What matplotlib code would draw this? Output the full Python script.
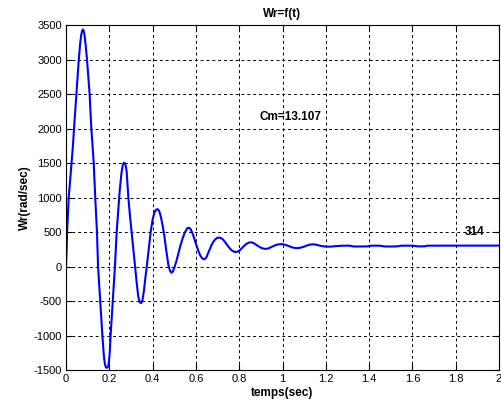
import matplotlib
matplotlib.use("Agg")
import matplotlib.pyplot as plt

plt.rcParams["font.family"] = ["Liberation Sans", "DejaVu Sans"]
plt.rcParams["axes.unicode_minus"] = False

# speed response (time in s, speed in rad/s)
t = [0.000, 0.003, 0.005, 0.009, 0.0125, 0.019, 0.026, 0.032, 0.037, 0.048,
     0.059, 0.065, 0.070, 0.074, 0.078, 0.082, 0.086, 0.091, 0.097, 0.103,
     0.109, 0.117, 0.128, 0.135, 0.143, 0.148, 0.158, 0.168, 0.175, 0.180,
     0.185, 0.192, 0.197, 0.202, 0.206, 0.216, 0.226, 0.234, 0.241, 0.248,
     0.256, 0.262, 0.268, 0.274, 0.280, 0.288, 0.295, 0.303, 0.311, 0.319,
     0.327, 0.334, 0.341, 0.347, 0.353, 0.360, 0.366, 0.373, 0.382, 0.391,
     0.400, 0.408, 0.416, 0.424, 0.431, 0.438, 0.446, 0.454, 0.463, 0.473,
     0.480, 0.487, 0.493, 0.500, 0.510, 0.520, 0.530, 0.540, 0.550, 0.560,
     0.568, 0.576, 0.588, 0.600, 0.611, 0.620, 0.630, 0.639, 0.648, 0.660,
     0.672, 0.685, 0.698, 0.711, 0.724, 0.738, 0.752, 0.765, 0.778, 0.790,
     0.803, 0.818, 0.833, 0.846, 0.858, 0.872, 0.888, 0.903, 0.919, 0.935,
     0.950, 0.966, 0.982, 0.997, 1.013, 1.030, 1.047, 1.063, 1.080, 1.097,
     1.113, 1.128, 1.142, 1.158, 1.175, 1.195, 1.220, 1.250, 1.280, 1.310,
     1.330, 1.360, 1.390, 1.410, 1.450, 1.470, 1.500, 1.530, 1.550, 1.600,
     1.625, 1.655, 1.670, 1.750, 1.850, 2.000]
wr = [0, 250, 500, 750, 1000, 1250, 1500, 1750, 2000, 2500,
      3000, 3220, 3350, 3415, 3435, 3415, 3340, 3200, 3000, 2750,
      2500, 2000, 1500, 1000, 500, 0, -500, -1000, -1300, -1420,
      -1465, -1465, -1420, -1250, -1000, -500, 0, 500, 800, 1100,
      1350, 1470, 1505, 1490, 1380, 1000, 750, 500, 250, 0,
      -250, -440, -520, -530, -490, -350, -180, 0, 250, 500,
      680, 780, 825, 830, 800, 720, 600, 450, 230, 20,
      -60, -90, -75, -20, 80, 200, 320, 420, 500, 555,
      562, 540, 450, 330, 230, 160, 115, 105, 130, 220,
      310, 380, 415, 420, 395, 340, 280, 235, 212, 212,
      235, 285, 328, 348, 350, 330, 295, 268, 255, 262,
      285, 308, 322, 325, 315, 295, 275, 266, 270, 285,
      305, 318, 322, 315, 300, 290, 288, 296, 302, 302,
      290, 290, 291, 302, 302, 291, 290, 292, 302, 302,
      292, 292, 302, 303, 303, 303]

x_ticks = [0, 0.2, 0.4, 0.6, 0.8, 1, 1.2, 1.4, 1.6, 1.8, 2]
x_labels = ["0", "0.2", "0.4", "0.6", "0.8", "1", "1.2", "1.4", "1.6", "1.8", "2"]
y_ticks = [-1500, -1000, -500, 0, 500, 1000, 1500, 2000, 2500, 3000, 3500]

fig = plt.figure(figsize=(5.02, 4.08), dpi=100)
ax = fig.add_axes([0.1315, 0.0931, 0.8625, 0.8456])

ax.plot(t, wr, color="#0000ff", linewidth=1.5)

ax.set_xlim(0, 2)
ax.set_ylim(-1500, 3500)
ax.set_xticks(x_ticks)
ax.set_xticklabels(x_labels)
ax.set_yticks(y_ticks)

ax.grid(True, color="black", linestyle=(0, (3, 3)), linewidth=0.7)
ax.tick_params(direction="in", length=4, width=0.8, labelsize=8,
               top=True, right=True, pad=3)
for s in ax.spines.values():
    s.set_linewidth(0.8)

ax.set_title("Wr=f(t)", fontsize=8.5, fontweight="bold", pad=6)
ax.set_xlabel("temps(sec)", fontsize=8.5, fontweight="bold", labelpad=2)
ax.set_ylabel("Wr(rad/sec)", fontsize=8.5, fontweight="bold", labelpad=2)

ax.text(1.035, 2170, "Cm=13.107", fontsize=8.5, fontweight="bold",
        ha="center", va="center")
ax.text(1.889, 500, "314", fontsize=8.5, fontweight="bold",
        ha="center", va="center")

fig.savefig("out.png", dpi=100)
